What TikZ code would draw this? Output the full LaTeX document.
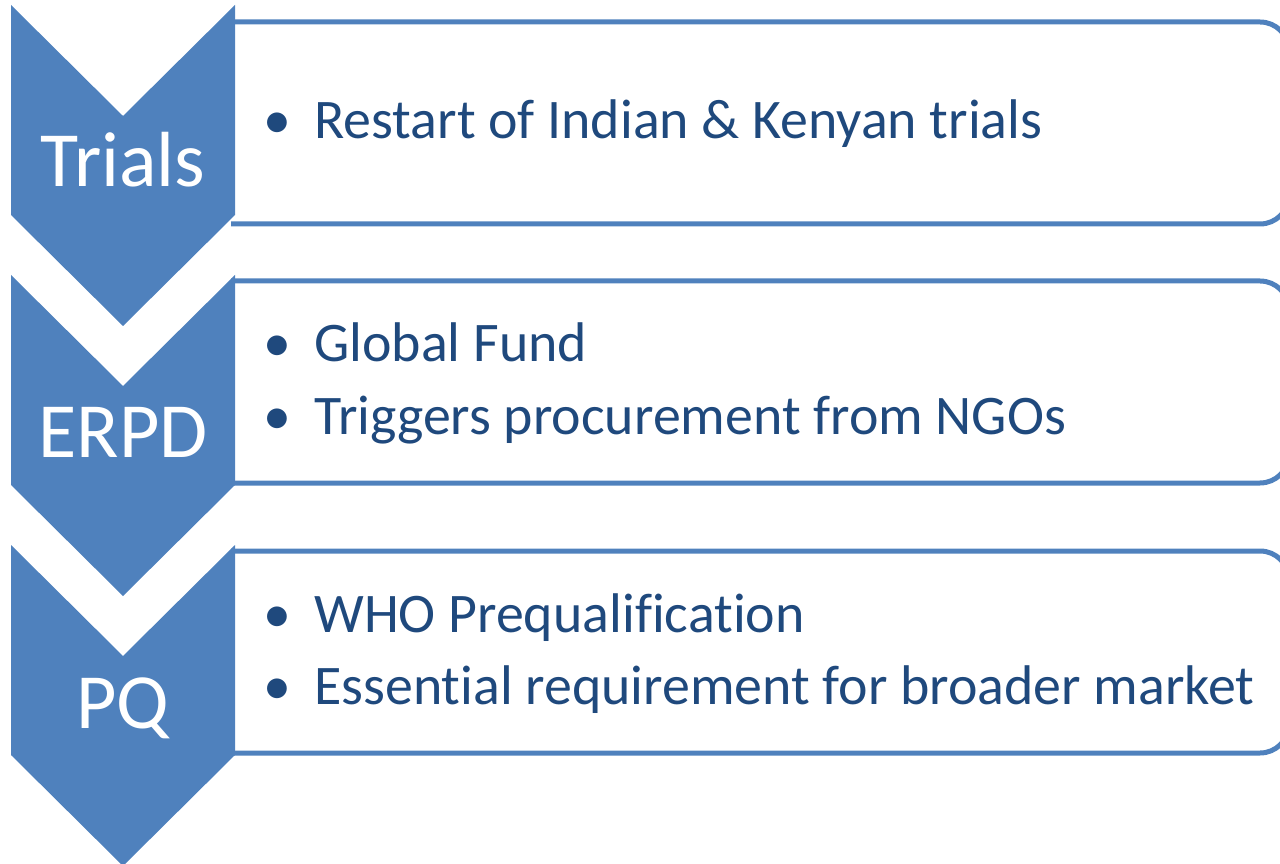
\documentclass[tikz,border=0pt]{standalone}
\usepackage{fontspec}
\setmainfont{Carlito}[Ligatures=NoCommon]
\usepackage{xcolor}
\definecolor{chevblue}{HTML}{4F81BD}
\definecolor{itemblue}{HTML}{1F497D}
\tikzset{
  chevron/.style={fill=chevblue},
  stagebox/.style={draw=chevblue, 
                   line width=0.1cm, 
                   rounded corners=0.58cm},
  stagelabel/.style={text=white, 
                     inner sep=0pt, 
                     anchor=base, 
                     font=\fontsize{44.5}{50}\selectfont},
  itemtext/.style={text=itemblue, 
                   inner sep=0pt, 
                   anchor=base west, 
                   font=\fontsize{31.8}{38}\selectfont},
  itembullet/.style={itemtext, anchor=base},
}

\begin{document}
\begin{tikzpicture}[x=0.02cm, y=-0.02cm]
\useasboundingbox (0,0) rectangle (1280,864);

% one box and one chevron per stage (top of chevron / top and bottom of box)
\foreach \y/\t/\b in {5/22/224, 275/281/483, 545/551/753} {
  \begin{scope}
    \clip (231,\y) rectangle (1300,\y+240);
    \draw[stagebox] (150,\t) rectangle (1289,\b);
  \end{scope}
  \fill[chevron] (11,\y) -- (123,\y+111) -- (235,\y) -- (235,\y+210) 
                 -- (123,\y+321) -- (11,\y+210) -- cycle;
}

\node[stagelabel] (trials) at (123,187) {Trials};
\node[stagelabel] (erpd) at (123,457) {ERPD};
\node[stagelabel] (pq) at (123,728) {PQ};

\node[itembullet] (restartdot) at (277,139) {\textbullet};
\node[itemtext] (restart) at (314,139) {Restart of Indian \& Kenyan trials};

\node[itembullet] (funddot) at (277,362) {\textbullet};
\node[itemtext] (fund) at (314,362) {Global Fund};
\node[itembullet] (ngodot) at (277,434) {\textbullet};
\node[itemtext] (ngo) at (314,434) {Triggers procurement from NGOs};

\node[itembullet] (whodot) at (277,632) {\textbullet};
\node[itemtext] (who) at (314,632) {WHO Prequalification};
\node[itembullet] (marketdot) at (277,704) {\textbullet};
\node[itemtext] (market) at (314,704) {Essential requirement for broader market};
\end{tikzpicture}
\end{document}
